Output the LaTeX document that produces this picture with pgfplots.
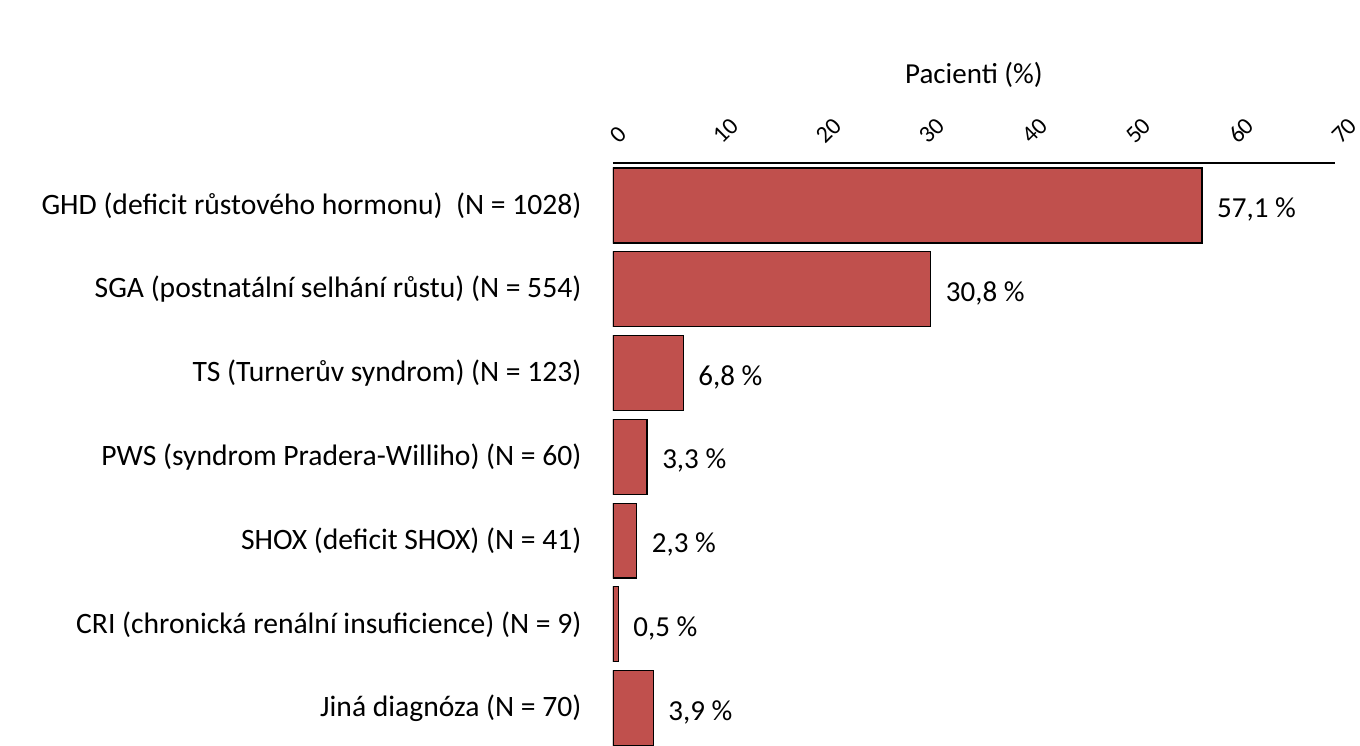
\documentclass[border=0pt]{standalone}
\usepackage{pgfplots}
\pgfplotsset{compat=1.18}
\usepackage{fontspec}
\setmainfont{Carlito}
\definecolor{barred}{HTML}{C0504D}

\begin{document}
\begin{tikzpicture}
\begin{axis}[
    xbar,
    scale only axis,
    width=361pt,
    height=291pt,
    y dir=reverse,
    xmin=0, xmax=70,
    ymin=-0.507, ymax=6.44,
    xtick={0,10,...,70},
    ytick={0,...,6},
    yticklabels={
      {GHD (deficit růstového hormonu)\ \ (N = 1028)},
      {SGA (postnatální selhání růstu) (N = 554)},
      {TS (Turnerův syndrom) (N = 123)},
      {PWS (syndrom Pradera-Williho) (N = 60)},
      {SHOX (deficit SHOX) (N = 41)},
      {CRI (chronická renální insuficience) (N = 9)},
      {Jiná diagnóza (N = 70)}},
    axis x line*=top,
    axis y line*=left,
    y axis line style={draw=none},
    x axis line style={line width=0.9pt},
    tick style={draw=none},
    xlabel={Pacienti (\%)},
    xlabel style={font=\fontsize{14.5}{17}\selectfont, yshift=6pt},
    /pgf/number format/assume math mode=true,
    xticklabel style={font=\fontsize{12}{14}\selectfont, rotate=45, anchor=south west, xshift=5.2pt, yshift=0.6pt},
    yticklabel style={font=\fontsize{14.8}{17}\selectfont, anchor=east, xshift=-8pt},
    bar width=0.895,
    clip=true,
    point meta=explicit symbolic,
    nodes near coords,
    nodes near coords style={font=\fontsize{14.5}{17}\selectfont, anchor=west, xshift=4pt, yshift=-2pt},
]
\addplot[fill=barred, draw=black, line width=0.6pt] coordinates {
    (57.1,0) [57,1 \%]
    (30.8,1) [30,8 \%]
    (6.8,2) [6,8 \%]
    (3.3,3) [3,3 \%]
    (2.3,4) [2,3 \%]
    (0.5,5) [0,5 \%]
    (3.9,6) [3,9 \%]
};
\end{axis}
\pgfresetboundingbox
\path (current axis.south west) ++(-306.5pt,0pt) rectangle ++(680pt,372.5pt);
\end{tikzpicture}
\end{document}
